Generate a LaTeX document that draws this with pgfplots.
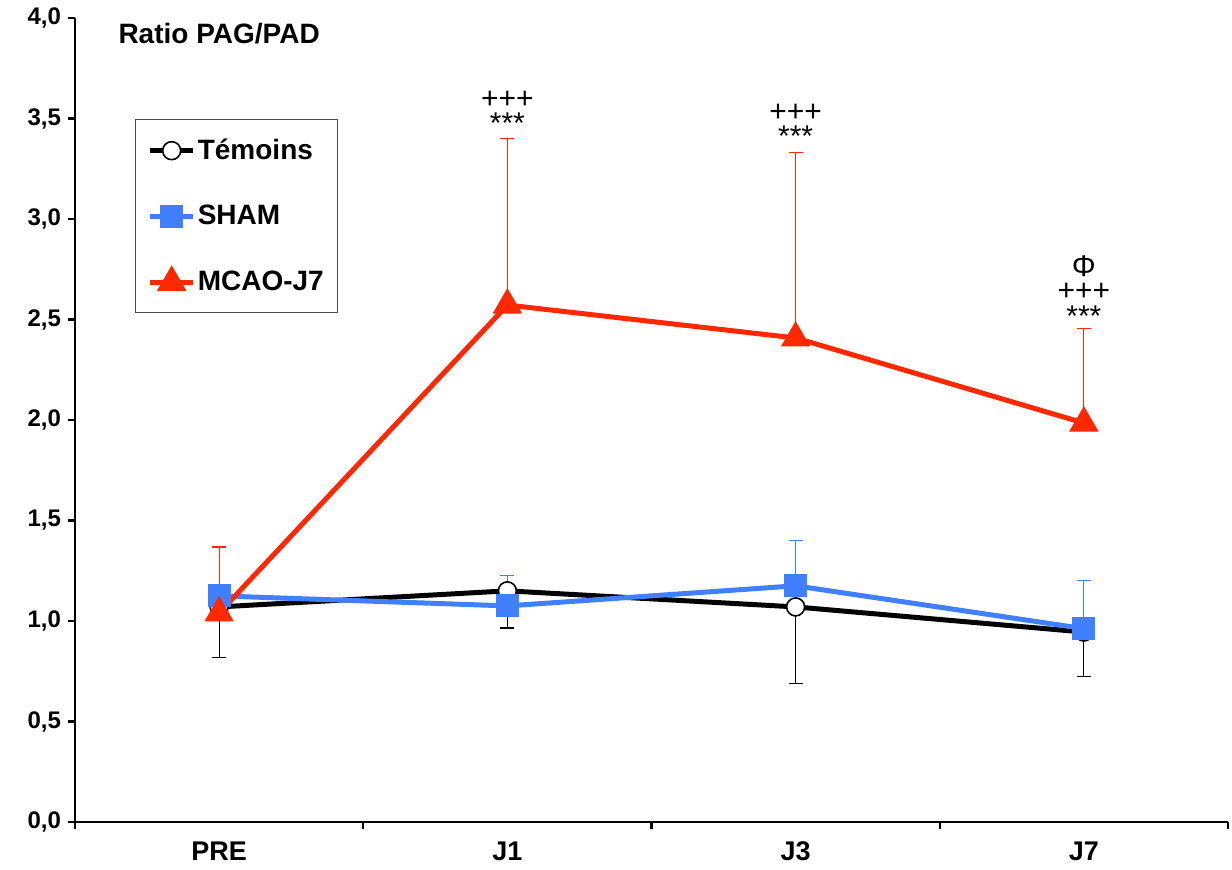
\documentclass[border=0pt]{standalone}
\usepackage{pgfplots}
\pgfplotsset{compat=1.18}
\usepackage{fontspec}
\setmainfont{Liberation Sans}
\definecolor{shamblue}{RGB}{64,128,255}
\definecolor{mcaored}{RGB}{255,40,0}
\pgfplotsset{myleg/.style={legend image code/.code={\draw[mark repeat=2,mark phase=2,##1] plot coordinates {(0cm,0cm) (0.38cm,0cm) (0.76cm,0cm)};}}}
\begin{document}
\begin{tikzpicture}
\begin{axis}[
  scale only axis, width=576.5pt, height=402pt,
  xmin=-0.5, xmax=3.5, ymin=0, ymax=4,
  axis x line*=bottom, axis y line*=left,
  axis line style={line width=1.2pt},
  tick style={line width=1.2pt, black},
  tick align=outside,
  ytick={0,0.5,1,1.5,2,2.5,3,3.5,4},
  major tick length=3.5pt,
  xtick={0,1,2,3},
  xticklabels={PRE,J1,J3,J7},
  minor xtick={-0.5,0.5,1.5,2.5,3.5},
  major x tick style={draw=none},
  minor tick length=3.5pt,
  /pgf/number format/.cd, use comma, fixed, fixed zerofill, precision=1, assume math mode=true,
  /pgfplots/.cd,
  yticklabel style={font=\bfseries\fontsize{12}{14}\selectfont},
  xticklabel style={font=\bfseries\fontsize{13.5}{15}\selectfont, yshift=-3pt},
  legend style={at={(0.052,0.874)}, anchor=north west, draw=black!70, line width=0.6pt,
    font=\bfseries\fontsize{14}{16}\selectfont, row sep=17.5pt,
    inner xsep=6pt, inner ysep=7.5pt, nodes={inner xsep=1pt}},
  legend cell align=left,
  myleg,
  clip=false,
]
\addplot[black, line width=2.5pt, mark=*, mark size=4.5pt, mark options={fill=white, draw=black, line width=0.8pt, solid},
  error bars/.cd, y dir=minus, y explicit, error bar style={line width=0.6pt, black},
  error mark options={rotate=90, mark size=3.5pt, line width=0.6pt, black}]
  coordinates {(0,1.07) -= (0,0.25) (1,1.15) -= (0,0.185) (2,1.07) -= (0,0.38) (3,0.945) -= (0,0.22)};
\addlegendentry{Témoins}
\addplot[shamblue, line width=2.5pt, mark=square*, mark size=4.5pt, mark options={solid},
  error bars/.cd, y dir=plus, y explicit, error bar style={line width=0.6pt, shamblue},
  error mark options={rotate=90, mark size=3.5pt, line width=0.6pt, shamblue}]
  coordinates {(0,1.125) += (0,0.24) (1,1.075) += (0,0.15) (2,1.175) += (0,0.225) (3,0.962) += (0,0.238)};
\addlegendentry{SHAM}
\addplot[mcaored, line width=2.5pt, mark=triangle*, mark size=6pt, mark options={solid},
  error bars/.cd, y dir=plus, y explicit, error bar style={line width=0.6pt, mcaored},
  error mark options={rotate=90, mark size=3.5pt, line width=0.6pt, mcaored}]
  coordinates {(0,1.04) += (0,0.328) (1,2.572) += (0,0.828) (2,2.408) += (0,0.922) (3,1.985) += (0,0.472)};
\addlegendentry{MCAO-J7}
\node[font=\bfseries\fontsize{14}{16}\selectfont] at (rel axis cs:0.125,0.981) {Ratio PAG/PAD};
\tikzset{ann/.style={inner sep=0pt, anchor=south, align=center, font=\fontsize{15}{12.5}\selectfont}}
\node[ann] at (axis cs:1,3.423) {+++\\***};
\node[ann] at (axis cs:2,3.358) {+++\\***};
\node[ann] at (axis cs:3,2.463) {Φ\\[-0.25pt]+++\\[0.5pt]***};
\end{axis}
\path (current axis.south west) ++(-37.5pt,-24pt) coordinate (bl);
\path (bl) rectangle ++(616pt,435pt);
\end{tikzpicture}
\end{document}
